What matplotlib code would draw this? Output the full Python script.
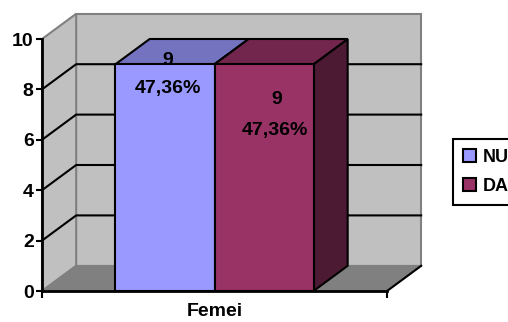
import matplotlib.pyplot as plt
from matplotlib.patches import Polygon, Patch

plt.rcParams['font.family'] = 'Liberation Sans'
plt.rcParams['font.weight'] = 'bold'

category = "Femei"
series = ["NU", "DA"]
values = [9, 9]
percent = ["47,36%", "47,36%"]
yticks = [0, 2, 4, 6, 8, 10]

front_colors = ["#9999FF", "#993366"]
top_colors = ["#7373C0", "#73264D"]
side_colors = ["#5C5C99", "#4D1A33"]

# depth of the 3d box (x in axis units, y in value units)
dx = 0.099
dy = 1.0
bar_w = 0.287
ymax = 10

fig = plt.figure(figsize=(5.08, 3.22), dpi=100)
ax = fig.add_axes([42 / 508, 31 / 322, 345 / 508, 252 / 322])
ax.set_xlim(0, 1)
ax.set_ylim(0, ymax)

wall = "#C0C0C0"
floor = "#808080"
edge = "#808080"

# walls and floor
ax.add_patch(Polygon([(dx, dy), (1 + dx, dy), (1 + dx, ymax + dy), (dx, ymax + dy)],
                     facecolor=wall, edgecolor=edge, lw=1.5, zorder=0, clip_on=False))
ax.add_patch(Polygon([(0, 0), (dx, dy), (dx, ymax + dy), (0, ymax)],
                     facecolor=wall, edgecolor=edge, lw=1.5, zorder=0, clip_on=False))
ax.add_patch(Polygon([(0, 0), (1, 0), (1 + dx, dy), (dx, dy)],
                     facecolor=floor, edgecolor=edge, lw=1.2, zorder=0.5, clip_on=False))
ax.plot([1, 1 + dx], [0, dy], color="black", lw=1.5, zorder=0.6, clip_on=False)

# gridlines on left and back wall
for v in yticks[1:-1]:
    ax.plot([0, dx, 1 + dx], [v, v + dy, v + dy], color="black", lw=1.5, zorder=1, clip_on=False)

# bars
x0 = 0.5 - bar_w
for i, val in enumerate(values):
    a = x0 + i * bar_w
    b = a + bar_w
    ax.add_patch(Polygon([(b, 0), (b + dx, dy), (b + dx, val + dy), (b, val)],
                         facecolor=side_colors[i], edgecolor="black", lw=1.5, zorder=3 + i, clip_on=False))
    ax.add_patch(Polygon([(a, val), (b, val), (b + dx, val + dy), (a + dx, val + dy)],
                         facecolor=top_colors[i], edgecolor="black", lw=1.5, zorder=3 + i, clip_on=False))
    ax.add_patch(Polygon([(a, 0), (b, 0), (b, val), (a, val)],
                         facecolor=front_colors[i], edgecolor="black", lw=1.5, zorder=3 + i, clip_on=False))

# data labels
label_pos = [[(0.365, 0.15), (0.365, -0.95)], [(0.681, -1.42), (0.675, -2.65)]]
for i, val in enumerate(values):
    (xa, ya), (xb, yb) = label_pos[i]
    ax.text(xa, val + ya, str(val), ha="center", va="center", fontsize=14, fontweight="bold", zorder=10)
    ax.text(xb, val + yb, percent[i], ha="center", va="center", fontsize=14, fontweight="bold", zorder=10)

# axes
for s in ["top", "right"]:
    ax.spines[s].set_visible(False)
for s in ["left", "bottom"]:
    ax.spines[s].set_linewidth(2)
    ax.spines[s].set_zorder(8)
ax.set_yticks(yticks)
ax.set_yticklabels([str(t) for t in yticks], fontsize=14, fontweight="bold")
ax.tick_params(axis="y", length=4, width=1.5, pad=2)
ax.set_xticks([0, 1])
ax.set_xticklabels(["", ""])
ax.tick_params(axis="x", which="major", length=5, width=1.5)
ax.set_xticks([0.5], minor=True)
ax.set_xticklabels([category], minor=True, fontsize=14, fontweight="bold")
ax.tick_params(axis="x", which="minor", length=0, pad=9)
ax.patch.set_visible(False)

handles = [Patch(facecolor=front_colors[i], edgecolor="black", lw=1.5) for i in range(2)]
leg = fig.legend(handles, series, loc="upper left", bbox_to_anchor=(453 / 508, 1 - 139 / 322),
                 fancybox=False, edgecolor="black", framealpha=1, borderaxespad=0,
                 prop={"weight": "bold", "size": 13}, handlelength=0.7, handleheight=0.7,
                 handletextpad=0.4, labelspacing=0.65, borderpad=0.55)
leg.get_frame().set_linewidth(1.5)

plt.savefig("out.png", dpi=100)
